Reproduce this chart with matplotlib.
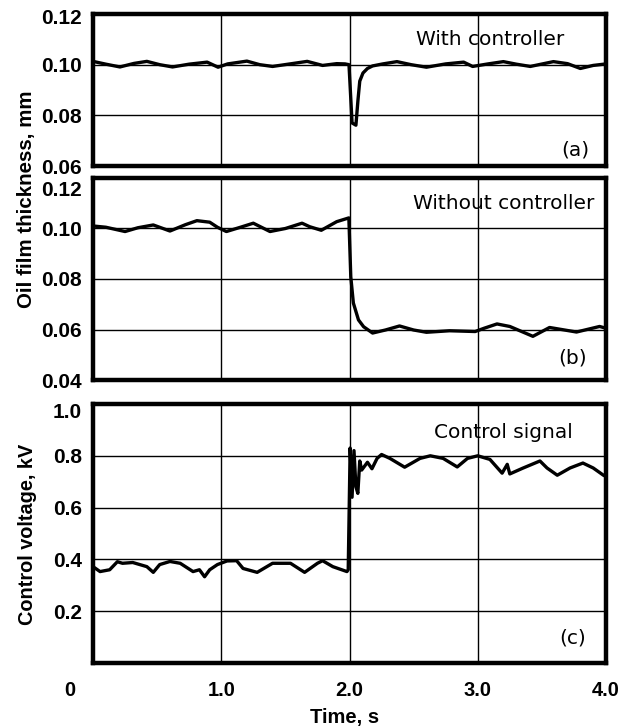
import matplotlib
matplotlib.use("Agg")
import matplotlib.pyplot as plt
import matplotlib.transforms as mtransforms

plt.rcParams['font.family'] = ['Liberation Sans', 'DejaVu Sans']

# ---- data ----
t_a = [0.00, 0.10, 0.21, 0.32, 0.42, 0.52, 0.62, 0.75, 0.89, 0.975, 1.05, 1.20, 1.30, 1.40,
       1.55, 1.67, 1.79, 1.90, 1.965, 1.996, 2.02, 2.05, 2.066, 2.08, 2.105, 2.14, 2.18, 2.26,
       2.37, 2.48, 2.60, 2.75, 2.89, 2.96, 3.08, 3.20, 3.30, 3.41, 3.59, 3.70, 3.80, 3.90, 4.00]
h_a = [0.1013, 0.1002, 0.0991, 0.1005, 0.1013, 0.1000, 0.0991, 0.1002, 0.1010, 0.0990, 0.1003, 0.1014, 0.1000, 0.0993,
       0.1004, 0.1013, 0.0997, 0.1004, 0.1003, 0.1000, 0.0770, 0.0761, 0.0860, 0.0935, 0.0967, 0.0985, 0.0995, 0.1003,
       0.1012, 0.1000, 0.0990, 0.1003, 0.1010, 0.0993, 0.1003, 0.1012, 0.1002, 0.0993, 0.1012, 0.1004, 0.0985, 0.0997, 0.1003]

t_b = [0.00, 0.10, 0.25, 0.35, 0.47, 0.60, 0.72, 0.81, 0.91, 0.97, 1.04, 1.15, 1.25, 1.38, 1.50,
       1.63, 1.69, 1.78, 1.90, 1.995, 2.01, 2.03, 2.07, 2.11, 2.18, 2.28, 2.39, 2.50, 2.60, 2.78,
       2.98, 3.05, 3.15, 3.25, 3.43, 3.56, 3.77, 3.95, 4.00]
h_b = [0.1010, 0.1005, 0.0988, 0.1003, 0.1014, 0.0990, 0.1015, 0.1031, 0.1025, 0.1005, 0.0988, 0.1005, 0.1021, 0.0988, 0.1000,
       0.1021, 0.1007, 0.0993, 0.1027, 0.1042, 0.0809, 0.0705, 0.0638, 0.0611, 0.0586, 0.0598, 0.0614, 0.0598, 0.0589, 0.0595,
       0.0592, 0.0605, 0.0622, 0.0612, 0.0573, 0.0608, 0.0590, 0.0612, 0.0605]

t_c = [0.00, 0.055, 0.13, 0.19, 0.23, 0.31, 0.42, 0.47, 0.52, 0.60, 0.68, 0.78, 0.83, 0.87, 0.91,
       0.97, 1.045, 1.12, 1.17, 1.28, 1.40, 1.54, 1.65, 1.75, 1.79, 1.87, 1.98, 1.99, 2.005, 2.02,
       2.035, 2.05, 2.065, 2.08, 2.095, 2.14, 2.175, 2.215, 2.25, 2.315, 2.43, 2.55, 2.63, 2.73,
       2.84, 2.92, 3.00, 3.095, 3.19, 3.23, 3.25, 3.35, 3.485, 3.54, 3.62, 3.72, 3.82, 3.90, 3.98, 4.00]
v_c = [0.372, 0.353, 0.360, 0.391, 0.385, 0.388, 0.372, 0.350, 0.380, 0.392, 0.385, 0.353, 0.360, 0.333, 0.360,
       0.380, 0.394, 0.395, 0.365, 0.350, 0.385, 0.385, 0.350, 0.385, 0.395, 0.372, 0.353, 0.360, 0.830, 0.640,
       0.820, 0.680, 0.655, 0.780, 0.745, 0.775, 0.750, 0.790, 0.805, 0.790, 0.756, 0.790, 0.800, 0.790,
       0.757, 0.790, 0.800, 0.786, 0.733, 0.767, 0.730, 0.752, 0.780, 0.753, 0.725, 0.753, 0.772, 0.753, 0.725, 0.720]

x_ticks = [1, 2, 3, 4]
x_ticklabels = ["1.0", "2.0", "3.0", "4.0"]
yt_a = [0.06, 0.08, 0.10, 0.12]
yt_b = [0.04, 0.06, 0.08, 0.10, 0.12]
yt_c = [0.2, 0.4, 0.6, 0.8, 1.0]

W, H = 630, 727
fig = plt.figure(figsize=(W / 100, H / 100), dpi=100)

def box(top, bottom):
    l, r = 93 / W, 606 / W
    return [l, 1 - bottom / H, r - l, (bottom - top) / H]

ax_a = fig.add_axes(box(14, 166))
ax_b = fig.add_axes(box(178, 380))
ax_c = fig.add_axes(box(404, 663))

tick_font = dict(fontsize=15, fontweight='bold')

def style(ax, ylim, yticks, fmt):
    ax.set_xlim(0, 4)
    ax.set_ylim(*ylim)
    ax.set_xticks(x_ticks)
    ax.set_yticks(yticks)
    ax.set_yticklabels([fmt.format(v) for v in yticks], **tick_font)
    ax.tick_params(length=0, pad=8)
    ax.grid(True, color='black', linewidth=1.0)
    ax.set_axisbelow(True)
    for s in ax.spines.values():
        s.set_linewidth(3.2)
        s.set_color('black')

style(ax_a, (0.06, 0.12), yt_a, "{:.2f}")
style(ax_b, (0.04, 0.12), yt_b, "{:.2f}")
style(ax_c, (0.0, 1.0), yt_c, "{:.1f}")

def shift_top_label(ax, dy_px):
    lab = ax.get_yticklabels()[-1]
    lab.set_transform(lab.get_transform() + mtransforms.ScaledTranslation(0, -dy_px / 100, fig.dpi_scale_trans))

shift_top_label(ax_a, 3)
shift_top_label(ax_b, 10)
shift_top_label(ax_c, 7)

ax_a.set_xticklabels([])
ax_b.set_xticklabels([])
ax_c.set_xticklabels(x_ticklabels, fontsize=14.5, fontweight='bold')
ax_c.tick_params(axis='x', pad=13)
ax_c.text(-0.18, -0.105, "0", transform=ax_c.get_xaxis_transform(), ha='center', va='center',
          fontsize=14.5, fontweight='bold')

ax_a.plot(t_a, h_a, color='black', linewidth=2.4)
ax_b.plot(t_b, h_b, color='black', linewidth=2.4)
ax_c.plot(t_c, v_c, color='black', linewidth=2.4)

txt = dict(fontsize=14.5, color='black', family=['DejaVu Sans'])
ax_a.text(0.774, 0.83, "With controller", transform=ax_a.transAxes, ha='center', va='center', **txt)
ax_a.text(0.94, 0.105, "(a)", transform=ax_a.transAxes, ha='center', va='center', **txt)
ax_b.text(0.80, 0.876, "Without controller", transform=ax_b.transAxes, ha='center', va='center', **txt)
ax_b.text(0.935, 0.11, "(b)", transform=ax_b.transAxes, ha='center', va='center', **txt)
ax_c.text(0.80, 0.89, "Control signal", transform=ax_c.transAxes, ha='center', va='center', **txt)
ax_c.text(0.935, 0.097, "(c)", transform=ax_c.transAxes, ha='center', va='center', **txt)

fig.text(27 / W, 1 - 199 / H, "Oil film thickness, mm", rotation=90, ha='center', va='center',
         fontsize=14.8, fontweight='bold')
fig.text(28 / W, 1 - 534 / H, "Control voltage, kV", rotation=90, ha='center', va='center',
         fontsize=14.3, fontweight='bold')
fig.text(345 / W, 1 - 718 / H, "Time, s", ha='center', va='center', fontsize=14.5, fontweight='bold')

fig.savefig("out.png", dpi=100)
